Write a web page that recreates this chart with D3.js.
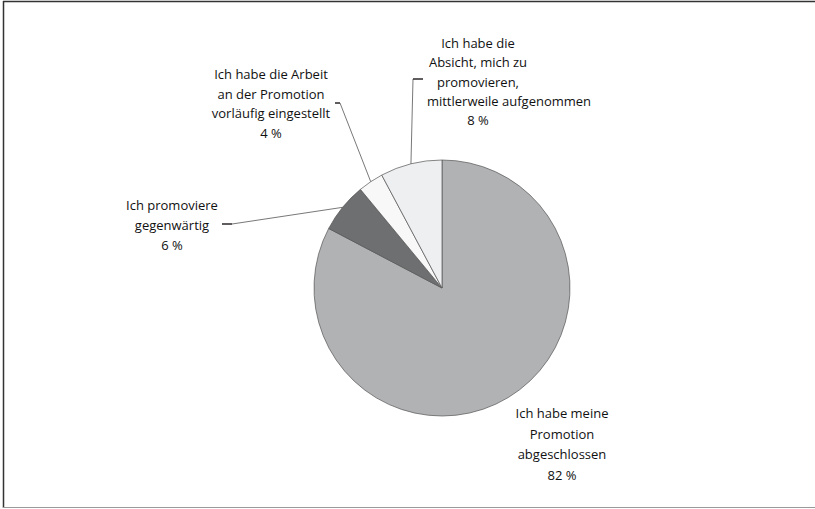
<!DOCTYPE html>
<html>
<head>
<meta charset="utf-8">
<script src="https://cdn.jsdelivr.net/npm/d3@7"></script>
<style>
  html, body { margin: 0; padding: 0; background: #fff; }
  svg { display: block; }
  .lbl { font-family: "Open Sans", sans-serif; font-size: 13px; fill: #111; }
</style>
</head>
<body>
<svg id="chart" width="815" height="509"></svg>
<script>
// slice values (clockwise from 12 o'clock)
const categories = [
  "Ich habe meine Promotion abgeschlossen",
  "Ich promoviere gegenwärtig",
  "Ich habe die Arbeit an der Promotion vorläufig eingestellt",
  "Ich habe die Absicht, mich zu promovieren, mittlerweile aufgenommen"
];
const values = [82.7, 6.3, 3.2, 7.8];
const pctLabels = ["82 %", "6 %", "4 %", "8 %"];
const labelLines = [
  ["Ich habe meine", "Promotion", "abgeschlossen", "82 %"],
  ["Ich promoviere", "gegenwärtig", "6 %"],
  ["Ich habe die Arbeit", "an der Promotion", "vorläufig eingestellt", "4 %"],
  ["Ich habe die", "Absicht, mich zu", "promovieren,", "mittlerweile aufgenommen", "8 %"]
];
const colors = ["#b1b2b4", "#6e6f71", "#f8f8f8", "#eeeff1"];

const width = 815, height = 509;
const cx = 442, cy = 288, radius = 128;

// label layout: centre x, first baseline, line height, optional per-line x, leader
const labelLayout = [
  { x: 562, y: 418, lh: 20.7, leader: null },
  { x: 172, y: 210, lh: 20, leader: { tick: [222, 232, 224] } },
  { x: 271, y: 79, lh: 19.7, leader: { tick: [335, 340, 103] } },
  { x: 478, y: 48, lh: 19.3, lineX: { 3: 509 }, leader: { tick: [423, 413, 79] } }
];

const svg = d3.select("#chart");

// frame
svg.append("line").attr("x1", 3).attr("x2", width).attr("y1", 1.5).attr("y2", 1.5)
  .attr("stroke", "#333").attr("stroke-width", 1.5);
svg.append("line").attr("x1", 3.5).attr("x2", 3.5).attr("y1", 1).attr("y2", 508)
  .attr("stroke", "#333").attr("stroke-width", 1.5);
svg.append("line").attr("x1", 3).attr("x2", width).attr("y1", 507.5).attr("y2", 507.5)
  .attr("stroke", "#999").attr("stroke-width", 1.2);

const pie = d3.pie().sort(null).value(d => d);
const arcs = pie(values);

const arc = d3.arc().innerRadius(0).outerRadius(radius);

const g = svg.append("g").attr("transform", `translate(${cx},${cy})`);

g.selectAll("path")
  .data(arcs)
  .join("path")
  .attr("d", arc)
  .attr("fill", (d, i) => colors[i])
  .attr("stroke", "#555")
  .attr("stroke-width", 0.7)
  .attr("stroke-linejoin", "round");

// leader lines: short horizontal tick, then line to the slice's mid point on the rim
arcs.forEach((d, i) => {
  const L = labelLayout[i].leader;
  if (!L) return;
  const mid = (d.startAngle + d.endAngle) / 2;
  const px = cx + radius * Math.sin(mid);
  const py = cy - radius * Math.cos(mid);
  const [x0, x1, ty] = L.tick;
  svg.append("path")
    .attr("d", d3.line()([[x0, ty], [x1, ty], [px, py]]))
    .attr("fill", "none")
    .attr("stroke", "#555")
    .attr("stroke-width", 0.8);
  svg.append("line")
    .attr("x1", x0).attr("x2", x1).attr("y1", ty).attr("y2", ty)
    .attr("stroke", "#231f20").attr("stroke-width", 1.2);
});

// labels
labelLines.forEach((lines, i) => {
  const lay = labelLayout[i];
  const t = svg.append("text").attr("class", "lbl").attr("text-anchor", "middle");
  lines.forEach((s, j) => {
    t.append("tspan")
      .attr("x", lay.lineX && lay.lineX[j] != null ? lay.lineX[j] : lay.x)
      .attr("y", lay.y + j * lay.lh)
      .text(s);
  });
});
</script>
</body>
</html>
